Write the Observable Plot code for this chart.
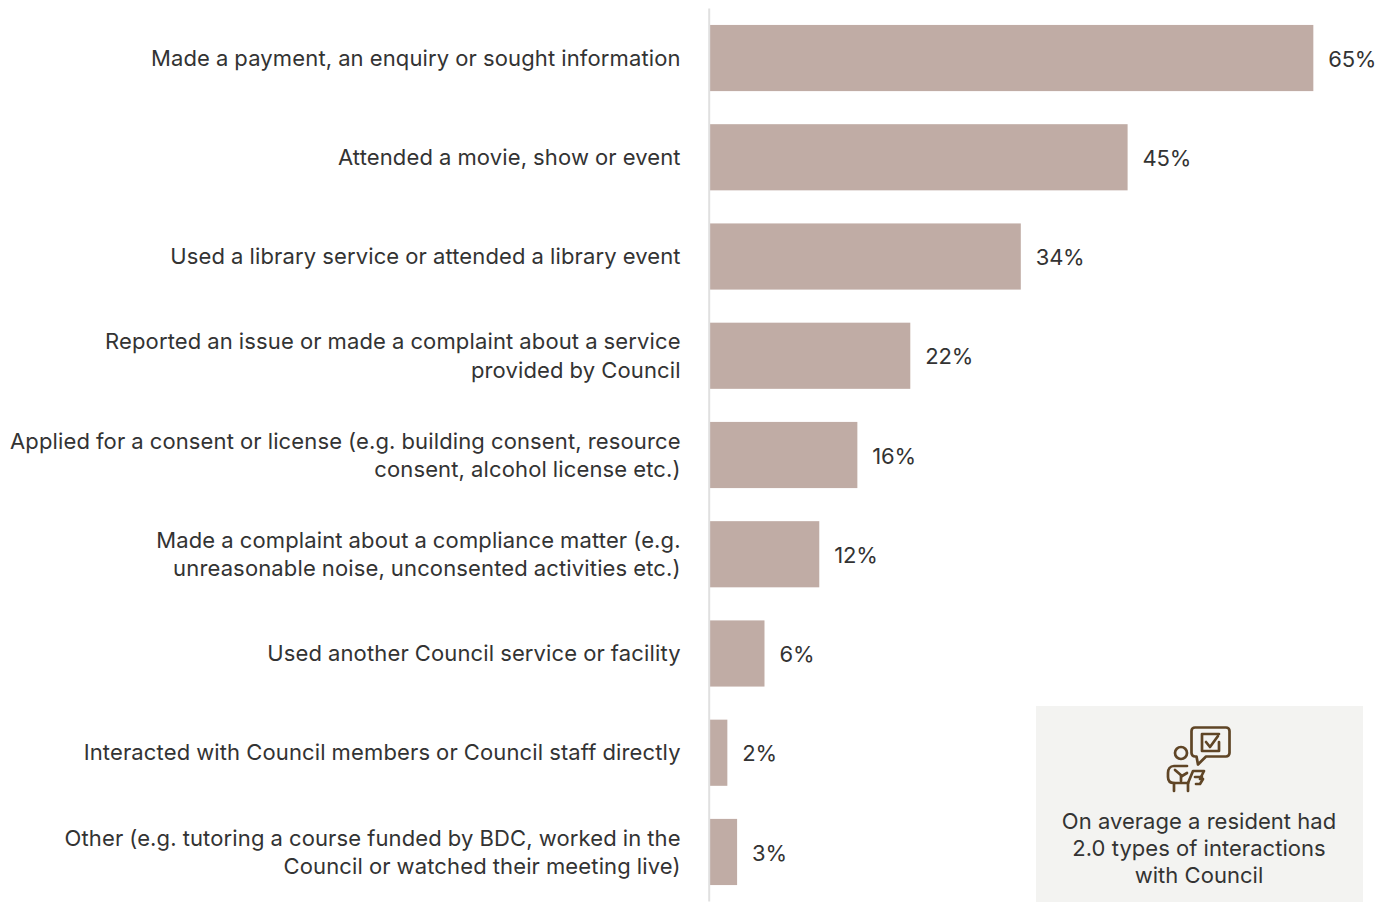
<!DOCTYPE html>
<html><head><meta charset="utf-8">
<script src="https://cdn.jsdelivr.net/npm/d3@7"></script>
<script src="https://cdn.jsdelivr.net/npm/@observablehq/plot@0.6"></script>
<style>
html,body{margin:0;padding:0;background:#fff;overflow:hidden}
#wrap{position:relative;width:1393px;height:902px}
#wrap svg.plot{display:block}
#box{position:absolute;left:1036px;top:706px;width:327px;height:196px;background:#f3f3f1}
#box svg{position:absolute;left:124px;top:14px}
#box p{position:absolute;left:-1px;right:0;top:102px;margin:0;text-align:center;font:22px/27px Inter,sans-serif;letter-spacing:.03px;color:#333}
.cat{letter-spacing:.14px;word-spacing:-.4px}
.val{letter-spacing:-.25px}
</style></head><body>
<div id="wrap"><div id="chart"></div>
<div id="box">
<svg width="80" height="76" viewBox="0 0 80 76" fill="none" stroke="#5f4526" stroke-width="2.7" stroke-linejoin="round" stroke-linecap="round">
<path d="M35 7.500h31a3.500 3.500 0 0 1 3.500 3.500v22a3.500 3.500 0 0 1-3.500 3.500H46l-8 8-1.500-8H35a3.500 3.500 0 0 1-3.500-3.500V11a3.500 3.500 0 0 1 3.500-3.500z"/>
<path d="M59 14H42v17h17v-9"/><path d="M46 22l4 5 8-11"/>
<circle cx="21" cy="33" r="6"/>
<path d="M27 46H14c-4 0-6 3-6 7v4c0 4 2 6 6 6h14"/><path d="M15 50l7 6 5-3"/><path d="M21 56v5"/>
<path d="M28 63l5-12h11l-4 8h3l-3 5-4 0"/><path d="M35 57h7"/>
<path d="M14 63v8M28 63v8"/>
</svg>
<p>On average a resident had<br>2.0 types of interactions<br>with Council</p>
</div></div>
<script>
const categories = [
 "Made a payment, an enquiry or sought information",
 "Attended a movie, show or event",
 "Used a library service or attended a library event",
 "Reported an issue or made a complaint about a service\nprovided by Council",
 "Applied for a consent or license (e.g. building consent, resource\nconsent, alcohol license etc.)",
 "Made a complaint about a compliance matter (e.g.\nunreasonable noise, unconsented activities etc.)",
 "Used another Council service or facility",
 "Interacted with Council members or Council staff directly",
 "Other (e.g. tutoring a course funded by BDC, worked in the\nCouncil or watched their meeting live)"
];
const values = [65, 45, 33.5, 21.6, 15.9, 11.8, 5.9, 1.9, 2.95];
const valueLabels = ["65%","45%","34%","22%","16%","12%","6%","2%","3%"];
const rows = categories.map((c,i)=>({c, v:values[i], l:valueLabels[i]}));
const font = "Inter, sans-serif";
const plot = Plot.plot({
  width:1393, height:902,
  marginLeft:709.7, marginRight:14.5, marginTop:8.4, marginBottom:0.4,
  style:{fontFamily:font, background:"transparent"},
  x:{domain:[0,72.2], range:[709.7,1380.2], axis:null},
  y:{domain:categories, paddingInner:1/3, paddingOuter:1/6, axis:null, align:0.5, round:false},
  marks:[
    Plot.barX(rows,{x:"v",y:"c",fill:"#c0aca5"}),
    Plot.ruleX([0],{stroke:"#e0e0e0",strokeWidth:2,dx:-1}),
    Plot.text(rows,{x:0,y:"c",text:"c",textAnchor:"end",dx:-29.5,dy:-1.8,lineHeight:1.28,fontSize:22,fill:"#333",className:"cat"}),
    Plot.text(rows,{x:"v",y:"c",text:"l",textAnchor:"start",dx:14.5,dy:1,fontSize:22,fill:"#333",className:"val"})
  ]
});
document.getElementById("chart").append(plot);
</script></body></html>
